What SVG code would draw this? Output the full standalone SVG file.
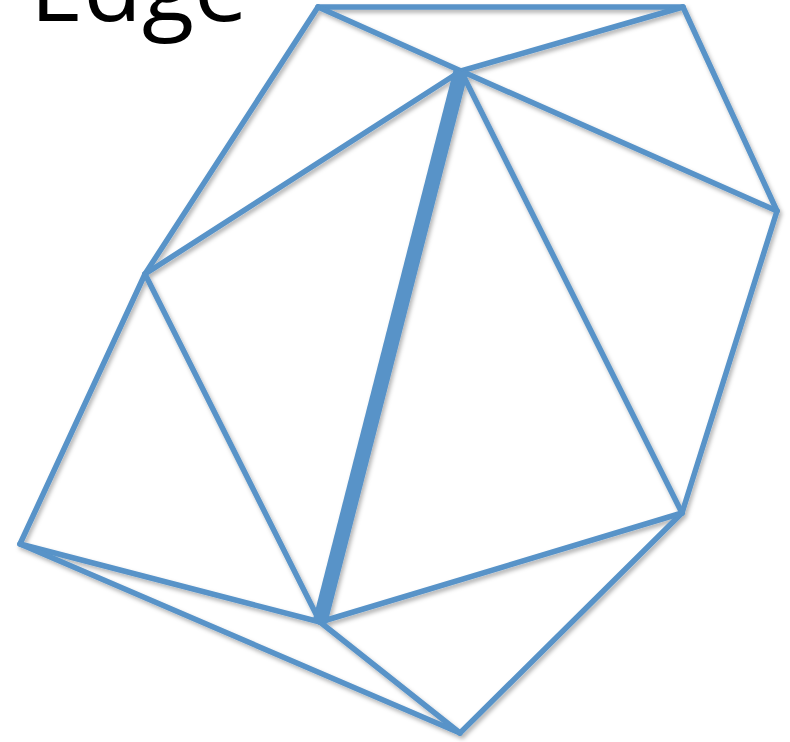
<svg xmlns="http://www.w3.org/2000/svg" width="790" height="742" viewBox="0 0 790 742">
  <defs>
    <filter id="sh" x="-10%" y="-10%" width="120%" height="120%">
      <feDropShadow dx="2" dy="3" stdDeviation="2" flood-color="#000" flood-opacity="0.3"/>
    </filter>
    <style>
      .e { stroke: #5893c8; stroke-width: 5.5; stroke-linecap: round; fill: none; }
      .thick { stroke: #5893c8; stroke-width: 15; stroke-linecap: butt; fill: none; }
      .t { font-family: "Open Sans", "Liberation Sans", sans-serif; font-size: 95px; fill: #000; }
    </style>
  </defs>
  <rect width="790" height="742" fill="#fff"/>
  <g id="title">
    <text class="t" x="30" y="21" textLength="218" lengthAdjust="spacingAndGlyphs">Edge</text>
  </g>
  <g id="connectors" filter="url(#sh)">
    <line class="e" x1="318" y1="7" x2="683" y2="7"/>
    <line class="e" x1="318" y1="7" x2="461" y2="71"/>
    <line class="e" x1="683" y1="7" x2="461" y2="71"/>
    <line class="e" x1="683" y1="7" x2="777" y2="211"/>
    <line class="e" x1="461" y1="71" x2="777" y2="211"/>
    <line class="e" x1="318" y1="7" x2="145" y2="274"/>
    <line class="e" x1="461" y1="71" x2="145" y2="274"/>
    <line class="e" x1="145" y1="274" x2="20" y2="544"/>
    <line class="e" x1="145" y1="274" x2="320" y2="622"/>
    <line class="e" x1="20" y1="544" x2="320" y2="622"/>
    <line class="e" x1="20" y1="544" x2="460" y2="733"/>
    <line class="e" x1="320" y1="622" x2="460" y2="733"/>
    <line class="e" x1="682" y1="513" x2="460" y2="733"/>
    <line class="e" x1="320" y1="622" x2="682" y2="513"/>
    <line class="e" x1="461" y1="71" x2="682" y2="513"/>
    <line class="e" x1="777" y1="211" x2="682" y2="513"/>
    <line id="edge-highlight" class="thick" x1="461" y1="71" x2="320" y2="622"/>
  </g>
</svg>
